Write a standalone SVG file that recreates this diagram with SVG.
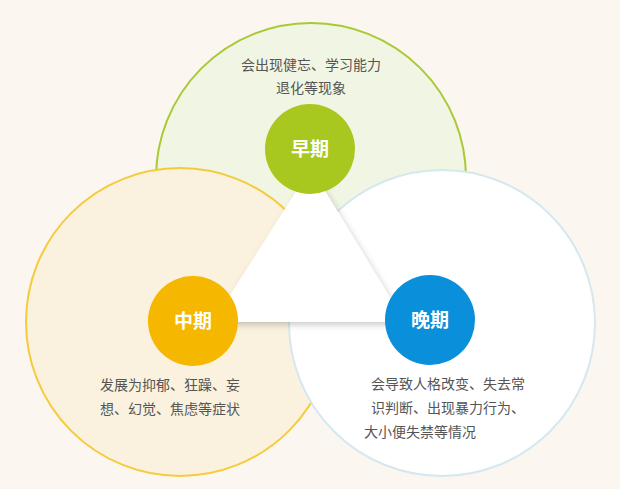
<svg xmlns="http://www.w3.org/2000/svg" width="620" height="489" viewBox="0 0 620 489">
<style>
.t{font-family:"Noto Sans CJK SC","Liberation Sans",sans-serif;font-size:14px;fill:#555;text-anchor:middle}
.b{font-family:"Noto Sans CJK SC","Liberation Sans",sans-serif;font-size:19px;font-weight:bold;fill:#fff;text-anchor:middle}
</style>
<defs><filter id="sh" x="-20%" y="-20%" width="140%" height="140%"><feDropShadow dx="2" dy="3" stdDeviation="3" flood-color="#000" flood-opacity="0.2"/></filter></defs>
<rect width="620" height="489" fill="#fbf6f0"/>
<g id="circles">
<circle cx="311" cy="178" r="155" fill="#f1f5e3" stroke="#a9c937" stroke-width="2"/>
<circle cx="180" cy="322" r="154" fill="#faf2de" stroke="#f5cb3c" stroke-width="2"/>
<circle cx="442" cy="323" r="153" fill="#ffffff" stroke="#d5e8ef" stroke-width="2"/>
</g>
<g id="connectors">
<polygon points="311,168 213,322 405,322" fill="#fff" filter="url(#sh)"/>
</g>
<g id="early">
<circle cx="310" cy="149" r="45" fill="#a8c820"/>
<text class="b" x="310" y="156">早期</text>
<text class="t" x="311" y="70">会出现健忘、学习能力</text>
<text class="t" x="311" y="93">退化等现象</text>
</g>
<g id="middle">
<circle cx="193" cy="321" r="45" fill="#f5b700"/>
<text class="b" x="193" y="328">中期</text>
<text class="t" x="170" y="390">发展为抑郁、狂躁、妄</text>
<text class="t" x="170" y="414">想、幻觉、焦虑等症状</text>
</g>
<g id="late">
<circle cx="430" cy="320" r="45" fill="#0a8fdb"/>
<text class="b" x="430" y="327">晚期</text>
<text class="t" x="448" y="389">会导致人格改变、失去常</text>
<text class="t" x="448" y="413">识判断、出现暴力行为、</text>
<text class="t" x="420" y="437">大小便失禁等情况</text>
</g>
</svg>
